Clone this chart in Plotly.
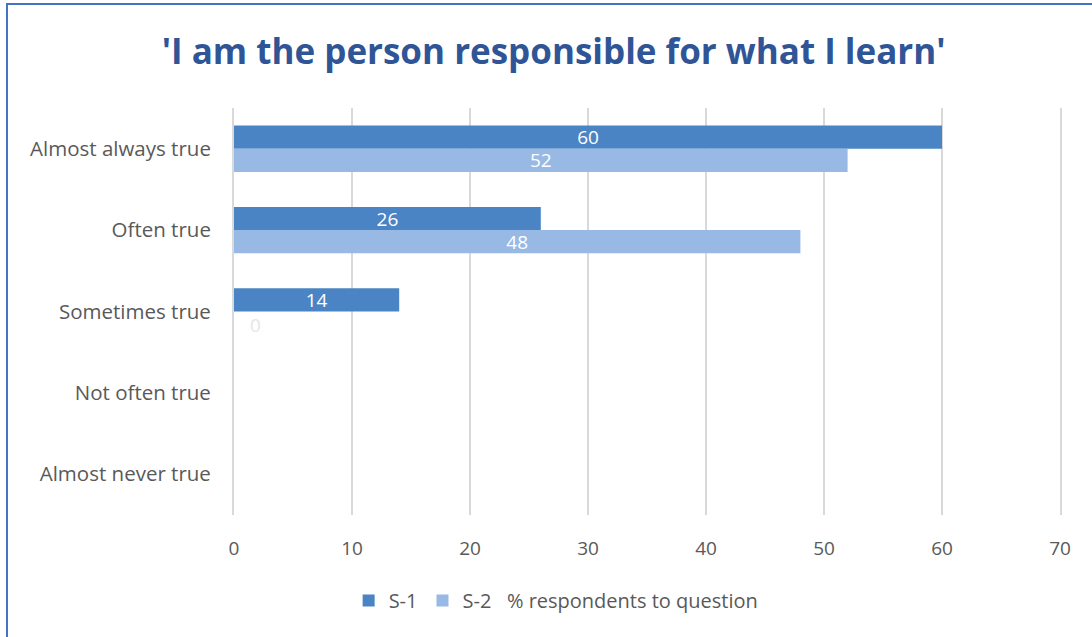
import plotly.graph_objects as go

categories = ["Almost always true", "Often true", "Sometimes true", "Not often true", "Almost never true"]
s1_values = [60, 26, 14, None, None]
s2_values = [52, 48, 0, None, None]
x_ticks = [0, 10, 20, 30, 40, 50, 60, 70]

FONT = "Open Sans"
fig = go.Figure()
fig.add_trace(go.Bar(
    y=categories, x=s1_values, orientation="h", name="S-1",
    marker=dict(color="#4A84C4", line=dict(width=0)),
    text=[str(v) if v else "" for v in s1_values], textposition="inside", textangle=0,
    constraintext="none", cliponaxis=False,
    insidetextanchor="middle", textfont=dict(color="white", size=19, family=FONT),
))
fig.add_trace(go.Bar(
    y=categories, x=s2_values, orientation="h", name="S-2 &nbsp; % respondents to question",
    marker=dict(color="#97B9E4", line=dict(width=0)),
    text=[str(v) if v else "" for v in s2_values], textposition="inside", textangle=0,
    constraintext="none", cliponaxis=False,
    insidetextanchor="middle", textfont=dict(color="white", size=19, family=FONT),
))

# zero label for S-2 Sometimes true
fig.add_annotation(x=0, y=categories[2], text=str(s2_values[2]), showarrow=False,
                   xanchor="center", xshift=21, yshift=-13,
                   font=dict(color="#E6E6E6", size=19, family=FONT))

fig.update_layout(
    width=1092, height=637,
    margin=dict(l=234, r=32, t=108, b=122),
    paper_bgcolor="white", plot_bgcolor="white",
    barmode="group", bargap=0.43, bargroupgap=0,
    title=dict(text="'I am the person responsible for what I learn'", x=0.507, xanchor="center",
               y=0.918, yanchor="middle",
               font=dict(family=FONT, size=35, color="#2F5597", weight="bold")),
    xaxis=dict(range=[0, 70], tickvals=x_ticks, showgrid=True, gridcolor="#D9D9D9", gridwidth=2,
               zeroline=False, showline=False, ticks="", ticklabelstandoff=20,
               tickfont=dict(family=FONT, size=19, color="#595959")),
    yaxis=dict(autorange="reversed", showgrid=False, zeroline=False, showline=True, mirror=True,
               linecolor="#D9D9D9", linewidth=2, ticks="",
               ticklabelstandoff=17,
               tickfont=dict(family=FONT, size=20.5, color="#595959")),
    legend=dict(orientation="h", x=0.39, xanchor="center", y=-0.21, yanchor="middle",
                font=dict(family=FONT, size=20, color="#595959"), traceorder="normal",
                itemwidth=30),
    showlegend=True,
)
fig.add_shape(type="rect", xref="paper", yref="paper",
              x0=(7 - 234) / 826, x1=(1100 - 234) / 826,
              y0=(515 - 645) / 407, y1=1 + (108 - 4) / 407,
              line=dict(color="#4472C4", width=2), fillcolor="rgba(0,0,0,0)", layer="below")

fig.write_html("out.html")
